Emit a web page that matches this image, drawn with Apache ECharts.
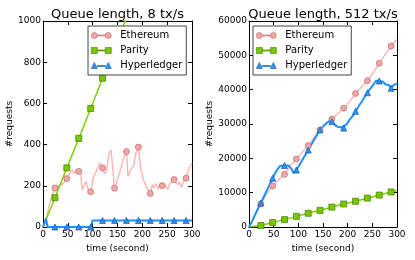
<!DOCTYPE html>
<html><head><meta charset="utf-8">
<script src="https://cdn.jsdelivr.net/npm/echarts@6/dist/echarts.min.js"></script>
<style>html,body{margin:0;padding:0;background:#fff}#c{width:415px;height:260px}</style>
</head><body><div id="c"></div>
<script>
// ---- data (time in seconds, #requests) ----
const seriesNames = ['Ethereum', 'Parity', 'Hyperledger'];
const markTimes = [24, 48, 72, 96, 120, 144, 168, 192, 216, 240, 264, 288];
const xTicks = [0, 50, 100, 150, 200, 250, 300];
const titles = ['Queue length, 8 tx/s', 'Queue length, 512 tx/s'];

// 8 tx/s
const ethLeft = [[0,0],[5,20],[12,100],[18,150],[24,189],[30,200],[37,205],[44,221],[48,235],[54,261],[59,277],[62,258],[66,275],[72,270],[76,255],[79,181],[84,208],[87,221],[91,181],[96,171],[101,237],[107,269],[114,310],[120,287],[124,258],[128,270],[133,358],[137,374],[141,269],[144,188],[150,230],[155,269],[162,334],[168,366],[171,245],[175,272],[182,294],[187,358],[192,388],[197,283],[202,229],[205,213],[208,218],[211,181],[216,163],[220,205],[223,190],[227,210],[231,185],[235,205],[240,201],[246,205],[251,181],[256,213],[264,230],[268,222],[272,205],[275,220],[279,193],[283,220],[288,237],[292,269],[297,300],[300,310]];
const parLeft = [[0,0],[24,142],[48,287],[72,430],[96,575],[120,722],[144,868],[168,1015],[192,1160]];
const hypLeft = [[0,0],[3,20],[6,42],[9,0],[24,0],[48,0],[72,0],[96,0],[100,32],[120,32],[144,32],[168,32],[192,32],[216,32],[240,32],[264,32],[288,32],[300,32]];

// 512 tx/s
const ethRight = [[0,0],[12,3500],[24,6700],[36,9700],[48,11950],[60,13800],[72,15350],[84,17800],[96,19800],[108,21800],[120,23700],[132,26200],[144,28250],[156,30300],[168,31450],[180,33000],[192,34600],[204,36500],[216,38900],[228,40800],[240,42600],[252,45000],[264,47700],[276,50300],[288,52700],[300,54700]];
const parRight = [[0,0],[24,450],[48,1300],[72,2150],[96,3100],[120,4000],[144,4850],[168,5800],[192,6700],[216,7500],[240,8400],[264,9300],[288,10200],[300,10600]];
const hypRight = [[0,0],[6,1600],[12,3500],[18,5300],[24,7000],[30,8800],[36,10600],[42,12400],[48,14200],[54,16000],[59,17100],[63,17800],[67,18000],[72,17900],[80,17900],[84,17800],[87,16800],[90,15700],[93,16100],[96,16600],[102,18000],[108,19500],[114,21000],[120,22400],[126,23900],[132,25400],[138,26900],[144,28300],[150,29300],[157,30200],[162,30800],[165,31000],[168,30700],[172,30200],[176,29500],[181,29100],[185,29400],[188,29000],[192,28800],[198,29900],[204,31300],[210,32300],[216,33700],[222,35100],[228,36400],[234,37800],[240,39100],[246,40300],[252,41500],[258,42600],[264,42500],[268,42100],[272,42300],[276,41600],[280,41200],[284,41300],[288,40400],[292,41200],[296,41400],[300,41800]];

// ---- styling ----
const FONT = 'DejaVu Sans';
const sty = {
  Ethereum:   {line: '#ffb3b3', w: 1.4, sym: 'circle',   fill: '#f5a5a5', edge: '#b56e6e'},
  Parity:     {line: '#7fd000', w: 1.5, sym: 'rect',     fill: '#77c800', edge: '#467a00'},
  Hyperledger:{line: '#1e90ff', w: 2,   sym: 'triangle', fill: '#2f92ee', edge: '#1257a6'}
};
const icons = {
  Ethereum: 'path://M0,3A3,3 0 1,1 6,3A3,3 0 1,1 0,3Z M14,3A3,3 0 1,1 20,3A3,3 0 1,1 14,3Z M6,2.5H14V3.5H6Z',
  Parity: 'path://M0,0H6V6H0Z M14,0H20V6H14Z M6,2.5H14V3.5H6Z',
  Hyperledger: 'path://M3,0L6,6H0Z M17,0L20,6H14Z M6,3H14V4H6Z'
};

function buildData(pairs) {
  return pairs.map(p => markTimes.indexOf(p[0]) >= 0 ? {value: p} : {value: p, symbol: 'none'});
}
function mkSeries(name, pairs, gi) {
  const s = sty[name];
  return {
    name: name, type: 'line', xAxisIndex: gi * 2, yAxisIndex: gi * 2,
    data: buildData(pairs), symbol: s.sym, symbolSize: 6, showAllSymbol: true,
    lineStyle: {color: s.line, width: s.w},
    itemStyle: {color: s.fill, borderColor: s.edge, borderWidth: 0.7},
    emphasis: {disabled: true}, clip: true
  };
}
const plain = v => String(v);
const axisLine = {show: true, onZero: false, lineStyle: {color: '#000', width: 1}};
const tick = {show: true, inside: true, length: 4, lineStyle: {color: '#000'}};
function xAxes(gi) {
  return [
    {gridIndex: gi, type: 'value', position: 'bottom', min: 0, max: 300, interval: 50,
     axisLine, axisTick: tick, splitLine: {show: false},
     axisLabel: {fontFamily: FONT, fontSize: 9, color: '#000', margin: 3, formatter: plain},
     name: 'time (second)', nameLocation: 'middle', nameGap: 13,
     nameTextStyle: {fontFamily: FONT, fontSize: 9, color: '#000'}},
    {gridIndex: gi, type: 'value', position: 'top', min: 0, max: 300, interval: 50,
     axisLine, axisTick: tick, splitLine: {show: false}, axisLabel: {show: false},
     name: titles[gi], nameLocation: 'middle', nameGap: 0,
     nameTextStyle: {fontFamily: FONT, fontSize: 13, color: '#000'}}
  ];
}
function yAxes(gi, max, interval, gap) {
  return [
    {gridIndex: gi, type: 'value', position: 'left', min: 0, max: max, interval: interval,
     axisLine, axisTick: tick, splitLine: {show: false},
     axisLabel: {fontFamily: FONT, fontSize: 9, color: '#000', margin: 2, formatter: plain},
     name: '#requests', nameLocation: 'middle', nameGap: gap, nameRotate: 90,
     nameTextStyle: {fontFamily: FONT, fontSize: 9, color: '#000'}},
    {gridIndex: gi, type: 'value', position: 'right', min: 0, max: max, interval: interval,
     axisLine, axisTick: tick, splitLine: {show: false}, axisLabel: {show: false}}
  ];
}
function legend(left) {
  return {
    left: left, top: 26, orient: 'vertical', selectedMode: false,
    itemWidth: 20, itemHeight: 6, itemGap: 4, padding: [4, 4, 4, 3],
    backgroundColor: '#fff', borderColor: '#444', borderWidth: 1,
    textStyle: {fontFamily: FONT, fontSize: 10, color: '#000', lineHeight: 11, padding: [0, 0, 0, 4]},
    data: seriesNames.map(n => ({
      name: n, icon: icons[n],
      itemStyle: {color: sty[n].fill, borderColor: sty[n].edge, borderWidth: 0.6}
    }))
  };
}

const chart = echarts.init(document.getElementById('c'), null, {renderer: 'canvas'});
chart.setOption({
  animation: false,
  textStyle: {fontFamily: FONT},
  grid: [
    {left: 43, right: 223, top: 21, bottom: 33},
    {left: 249, right: 18, top: 21, bottom: 33}
  ],
  xAxis: xAxes(0).concat(xAxes(1)),
  yAxis: yAxes(0, 1000, 200, 28).concat(yAxes(1, 60000, 10000, 30)),
  legend: [legend(88), legend(253)],
  series: [
    mkSeries('Ethereum', ethLeft, 0),
    mkSeries('Parity', parLeft, 0),
    mkSeries('Hyperledger', hypLeft, 0),
    mkSeries('Ethereum', ethRight, 1),
    mkSeries('Parity', parRight, 1),
    mkSeries('Hyperledger', hypRight, 1)
  ]
});
</script>
</body></html>
